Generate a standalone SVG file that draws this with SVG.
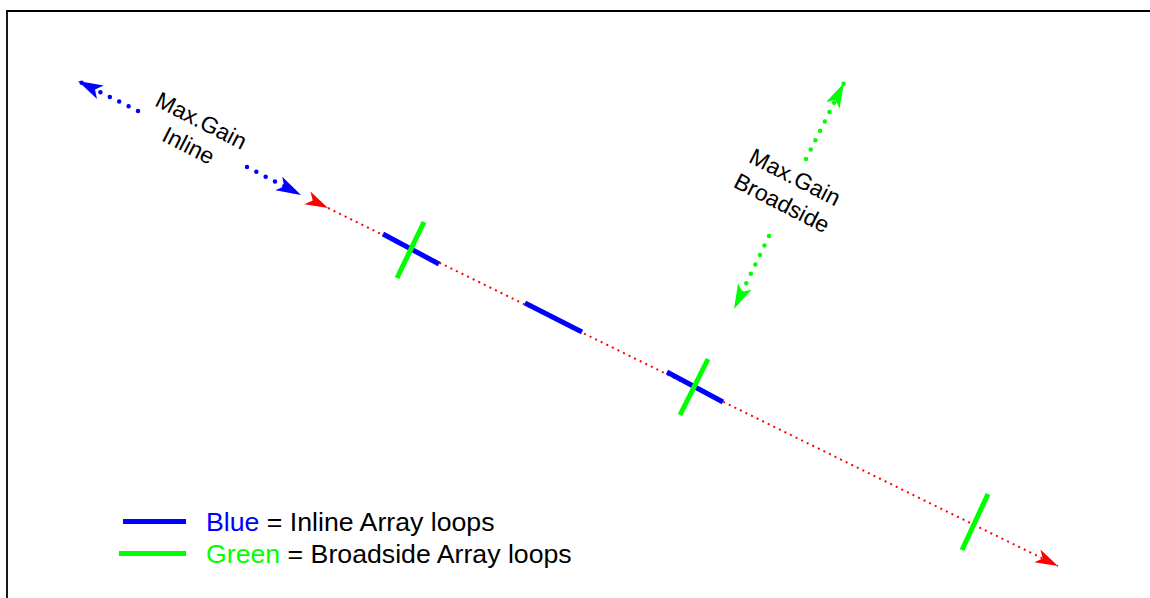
<svg xmlns="http://www.w3.org/2000/svg" width="1150" height="598" viewBox="0 0 1150 598">
  <style>
    text { font-family: "Liberation Sans", Arial, sans-serif; fill: #000; }
    .lbl { font-size: 23px; text-anchor: middle; }
    .leg { font-size: 26.7px; }
    .loopB { stroke: #0000ff; stroke-width: 5; fill: none; }
    .loopG { stroke: #00ff00; stroke-width: 5; fill: none; }
    .red { stroke: #ff0000; stroke-width: 2; stroke-dasharray: 2 4.2; fill: none; }
    .bdot { stroke: #0000ff; stroke-width: 4.5; stroke-linecap: round; stroke-dasharray: 0 10.5; fill: none; }
    .gdot { stroke: #00ff00; stroke-width: 4.5; stroke-linecap: round; stroke-dasharray: 0 10.5; fill: none; }
    marker { overflow: visible; }
  </style>
  <defs>
    <marker id="arR" markerUnits="userSpaceOnUse" markerWidth="1" markerHeight="1" refX="0" refY="0" orient="auto">
      <path d="M0,0 L-23,-7 L-17,0 L-23,7 Z" fill="#ff0000"/>
    </marker>
    <marker id="arB" markerUnits="userSpaceOnUse" markerWidth="1" markerHeight="1" refX="0" refY="0" orient="auto">
      <path d="M0,0 L-25,-7.5 L-19,0 L-25,7.5 Z" fill="#0000ff"/>
    </marker>
    <marker id="arG" markerUnits="userSpaceOnUse" markerWidth="1" markerHeight="1" refX="0" refY="0" orient="auto">
      <path d="M0,0 L-25,-7.5 L-19,0 L-25,7.5 Z" fill="#00ff00"/>
    </marker>
  </defs>

  <path id="frame" d="M7,598 L7,11 L1150,11" stroke="#000" stroke-width="1.8" fill="none"/>

  <g id="connectors">
    <path class="red" d="M328,208 L1058,566" marker-start="url(#arR)" marker-end="url(#arR)"/>
    <path class="bdot" d="M138,111 L78,81" marker-end="url(#arB)"/>
    <path class="bdot" d="M247,167 L301,195" marker-end="url(#arB)"/>
    <path class="gdot" d="M806,159 L844,83" marker-end="url(#arG)"/>
    <path class="gdot" d="M769,236 L734,309" marker-end="url(#arG)"/>
  </g>

  <g id="loop1">
    <line class="loopB" x1="383" y1="234" x2="439" y2="264"/>
    <line class="loopG" x1="424" y1="222" x2="397" y2="278"/>
  </g>
  <g id="loop2">
    <line class="loopB" x1="525" y1="303" x2="582" y2="332"/>
  </g>
  <g id="loop3">
    <line class="loopB" x1="667" y1="372" x2="723" y2="402"/>
    <line class="loopG" x1="708" y1="359" x2="680" y2="415"/>
  </g>
  <g id="loop4">
    <line class="loopG" x1="988" y1="494" x2="962" y2="550"/>
  </g>

  <g id="label-inline" transform="translate(195,133) rotate(27)">
    <text class="lbl" x="0" y="-6">Max.Gain</text>
    <text class="lbl" x="0" y="22">Inline</text>
  </g>
  <g id="label-broadside" transform="translate(788.5,190) rotate(27)">
    <text class="lbl" x="0" y="-6.5">Max.Gain</text>
    <text class="lbl" x="0" y="22.5">Broadside</text>
  </g>

  <g id="legend">
    <line stroke="#0000ff" stroke-width="5" x1="123" y1="521.5" x2="186" y2="521.5"/>
    <line stroke="#00ff00" stroke-width="5" x1="119" y1="553.5" x2="186" y2="553.5"/>
    <text class="leg" x="206" y="531"><tspan fill="#0000ff">Blue</tspan> = Inline Array loops</text>
    <text class="leg" x="206" y="563"><tspan fill="#00ff00">Green</tspan> = Broadside Array loops</text>
  </g>
</svg>
